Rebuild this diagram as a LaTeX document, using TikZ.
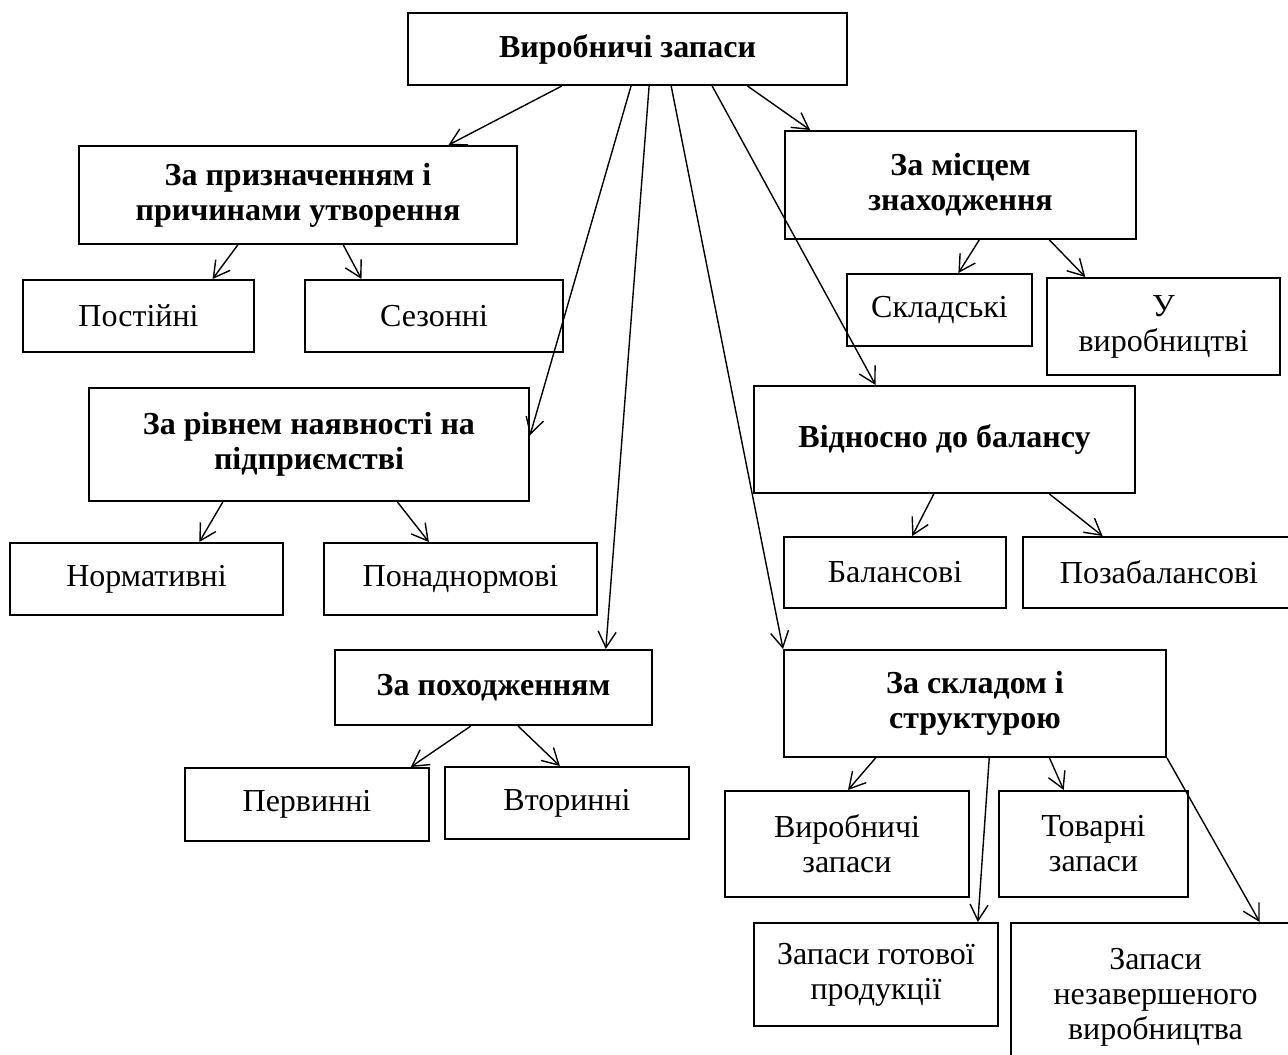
\documentclass[tikz,border=0pt]{standalone}
\usepackage{fontspec}
\setmainfont{Liberation Serif}
\usetikzlibrary{arrows.meta,calc}

\begin{document}
\begin{tikzpicture}[x=0.5pt,y=-0.5pt,
    box/.style={draw,line width=1pt,align=center,inner sep=0pt,
      font=\fontsize{16}{17.5}\selectfont},
    head/.style={box,font=\fontsize{16}{17.5}\selectfont\bfseries},
    link/.style={-{Straight Barb[length=8pt,width=9pt]},line width=0.7pt}]

  \useasboundingbox (0,0) rectangle (1288,1054);

  \node[head,minimum width=219.5pt,minimum height=36pt] (root) at (627.5,49) {Виробничі запаси};

  \node[head,minimum width=219pt,minimum height=49pt] (purpose) at (298,195)
  {За призначенням і \\ причинами утворення};
  \node[box,minimum width=115.5pt,minimum height=36pt] (const) at (138.5,316) {Постійні};
  \node[box,minimum width=129pt,minimum height=36pt] (seas) at (434,316) {Сезонні};

  \node[head,minimum width=220pt,minimum height=56.5pt] (level) at (309,444.5)
  {За рівнем наявності на \\ підприємстві};
  \node[box,minimum width=136.5pt,minimum height=36pt] (norm) at (146.5,579) {Нормативні};
  \node[box,minimum width=136.5pt,minimum height=36pt] (over) at (460.5,579) {Понаднормові};

  \node[head,minimum width=158.5pt,minimum height=37.5pt] (origin) at (493.5,687.5) {За походженням};
  \node[box,minimum width=122pt,minimum height=36.5pt] (prim) at (307,804.5) {Первинні};
  \node[box,minimum width=122pt,minimum height=36pt] (sec) at (567,803) {Вторинні};

  \node[head,minimum width=175.5pt,minimum height=54pt] (place) at (960.5,185)
  {За місцем \\ знаходження};
  \node[box,minimum width=92.5pt,minimum height=36pt] (store) at (939.5,310) {Складські};
  \node[box,minimum width=116.5pt,minimum height=48.5pt] (inprod) at (1163.5,326.5)
  {У \\ виробництві};

  \node[head,minimum width=190.5pt,minimum height=53.5pt] (bal) at (944.5,439.5) {Відносно до балансу};
  \node[box,minimum width=111pt,minimum height=35.5pt] (onbal) at (895,572.5) {Балансові};
  \node[box,minimum width=136pt,minimum height=35.5pt] (offbal) at (1159,572.5) {Позабалансові};

  \node[head,minimum width=191pt,minimum height=53.5pt] (comp) at (975,703.5)
  {За складом і \\ структурою};
  \node[box,minimum width=122pt,minimum height=53pt] (prodst) at (847,844)
  {Виробничі \\ запаси};
  \node[box,minimum width=94.5pt,minimum height=53pt] (goods) at (1093.5,844)
  {Товарні \\ запаси};
  \node[box,minimum width=122pt,minimum height=51.5pt] (ready) at (876,974.5)
  {Запаси готової \\ продукції};
  \node[box,minimum width=144.5pt,minimum height=74pt] (wip) at (1155.5,997)
  {Запаси \\ незавершеного \\ виробництва};

  \foreach \a/\fa/\b/\fb in {root/0.351/purpose/0.842, root/0.549/origin/0.852,
      root/0.599/comp/0, root/0.692/bal/0.320, root/0.772/place/0.074,
      purpose/0.363/const/0.818, purpose/0.603/seas/0.221,
      level/0.305/norm/0.692, level/0.70/over/0.385,
      origin/0.429/prim/0.922, origin/0.577/sec/0.471,
      place/0.553/store/0.601, place/0.752/inprod/0.167,
      bal/0.472/onbal/0.577, bal/0.774/offbal/0.294,
      comp/0.241/prodst/0.504, comp/0.537/ready/0.914,
      comp/0.694/goods/0.344, comp/1/wip/0.858}
    \draw[link] ($(\a.south west)!\fa!(\a.south east)$) -- ($(\b.north west)!\fb!(\b.north east)$);

  \draw[link] ($(root.south west)!0.508!(root.south east)$) -- ($(level.north east)!0.42!(level.south east)$);

\end{tikzpicture}
\end{document}
